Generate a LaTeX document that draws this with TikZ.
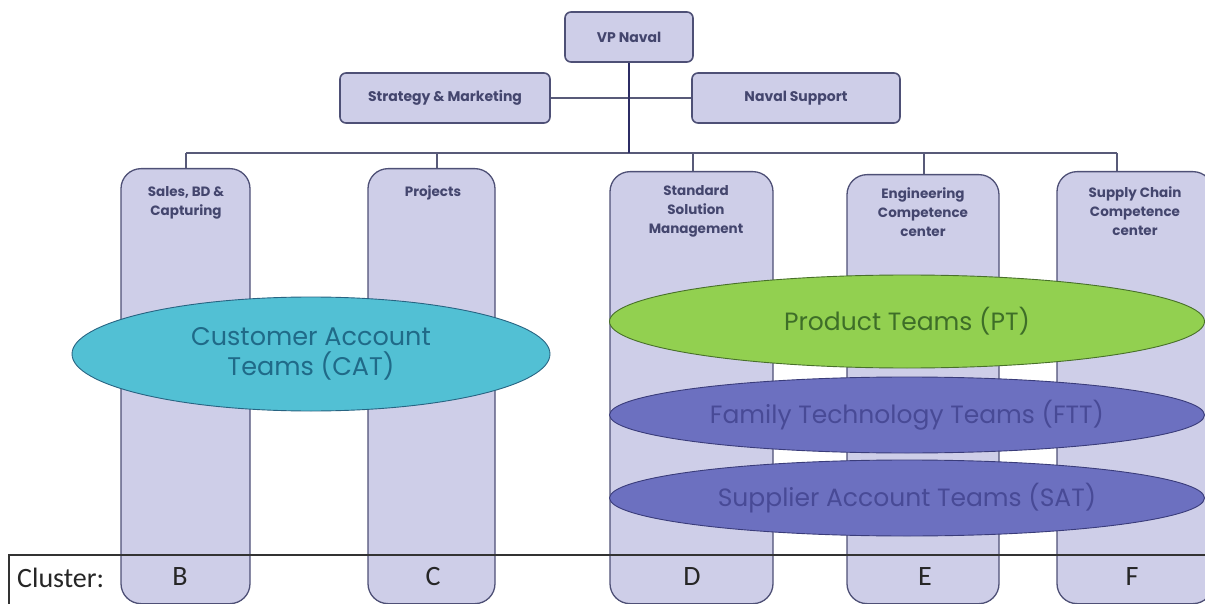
\documentclass[tikz,border=0pt]{standalone}
\usepackage{fontspec}
\setmainfont{Poppins}
\newfontfamily\calib{Carlito}
\usetikzlibrary{shapes.geometric}
\definecolor{colfill}{RGB}{206,206,232}
\definecolor{colborder}{RGB}{78,80,118}
\definecolor{headtext}{RGB}{68,70,110}
\definecolor{catfill}{RGB}{82,192,212}
\definecolor{cattext}{RGB}{32,106,136}
\definecolor{catborder}{RGB}{40,100,130}
\definecolor{ptfill}{RGB}{146,208,80}
\definecolor{pttext}{RGB}{62,110,40}
\definecolor{ptborder}{RGB}{72,112,42}
\definecolor{fttfill}{RGB}{108,112,192}
\definecolor{ftttext}{RGB}{72,74,150}
\definecolor{fttborder}{RGB}{58,60,122}
\definecolor{busline}{RGB}{88,90,120}
\definecolor{vpline}{RGB}{44,44,100}
\begin{document}
\begin{tikzpicture}[x=1pt,y=-1pt,
  colbox/.style={draw=colborder,fill=colfill,line width=1.3pt,rounded corners=20pt,anchor=north,inner sep=0pt},
  topbox/.style={draw=colborder,fill=colfill,line width=1.6pt,rounded corners=6pt,inner sep=0pt,text=headtext,font=\fontsize{14}{16}\selectfont\bfseries},
  headtxt/.style={text=headtext,align=center,inner sep=0pt,font=\fontsize{13.5}{19}\selectfont\bfseries},
  oval/.style={ellipse,inner sep=0pt,line width=0.9pt,align=center},
  busstyle/.style={draw=busline,line width=1.3pt},
  vpstyle/.style={draw=vpline,line width=2.2pt},
  tableline/.style={draw=black!80,line width=1.2pt},
  clustertxt/.style={inner sep=0pt,text=black!85,font=\calib\fontsize{28}{30}\selectfont}
]
\useasboundingbox (0,0) rectangle (1205,604);

% columns
\node[colbox,minimum width=129pt,minimum height=435pt] (sales) at (185.5,168) {};
\node[colbox,minimum width=127pt,minimum height=435pt] (proj) at (431.5,168) {};
\node[colbox,minimum width=163pt,minimum height=432pt] (std) at (691.5,171) {};
\node[colbox,minimum width=152pt,minimum height=429pt] (eng) at (923,174) {};
\node[colbox,minimum width=156pt,minimum height=432pt] (sup) at (1135,171) {};

\node[headtxt] (salesT) at (186,202.5) {Sales, BD \&\\Capturing};
\node[headtxt] (projT) at (433,193) {Projects};
\node[headtxt] (stdT) at (696,211) {Standard\\Solution\\Management};
\node[headtxt] (engT) at (923,212) {Engineering\\Competence\\center};
\node[headtxt] (supT) at (1135,211) {Supply Chain\\Competence\\center};

% top boxes
\node[topbox,minimum width=128pt,minimum height=50pt] (vp) at (629,37) {VP Naval};
\node[topbox,minimum width=210pt,minimum height=50pt] (strat) at (445,98) {Strategy \& Marketing};
\node[topbox,minimum width=208pt,minimum height=50pt] (naval) at (796,98) {Naval Support};

% connectors
\coordinate (b1) at (186,153);
\coordinate (b2) at (437,153);
\coordinate (b3) at (693,153);
\coordinate (b4) at (924,153);
\coordinate (b5) at (1117,153);
\draw[busstyle] (strat.east) -- (naval.west);
\draw[busstyle] (b1) -- (b5);
\draw[busstyle] (b1) -- (b1 |- sales.north);
\draw[busstyle] (b2) -- (b2 |- proj.north);
\draw[busstyle] (b3) -- (b3 |- std.north);
\draw[busstyle] (b4) -- (b4 |- eng.north);
\draw[busstyle] (b5) -- (b5 |- sup.north);
\draw[vpstyle] (vp.south) -- (vp.south |- b1);

% ellipses
\node[oval,draw=catborder,fill=catfill,text=cattext,minimum width=478pt,minimum height=114pt,font=\fontsize{25.5}{30}\selectfont] (cat) at (311,354) {Customer Account\\Teams (CAT)};
\node[oval,draw=ptborder,fill=ptfill,text=pttext,minimum width=595pt,minimum height=93pt,font=\fontsize{25}{30}\selectfont] (pt) at (907,321.5) {Product Teams (PT)};
\node[oval,draw=fttborder,fill=fttfill,text=ftttext,minimum width=595pt,minimum height=76pt,font=\fontsize{25}{30}\selectfont] (ftt) at (907,415) {Family Technology Teams (FTT)};
\node[oval,draw=fttborder,fill=fttfill,text=ftttext,minimum width=595pt,minimum height=76pt,font=\fontsize{25}{30}\selectfont] (sat) at (907,498) {Supplier Account Teams (SAT)};

% cluster table
\coordinate (t1) at (9,604);
\coordinate (t2) at (9,555);
\coordinate (t3) at (1205,555);
\draw[tableline] (t1) -- (t2) -- (t3);
\node[clustertxt,anchor=west] (cl) at (17,578) {Cluster:};
\node[clustertxt] (cB) at (180,577) {B};
\node[clustertxt] (cC) at (433,577) {C};
\node[clustertxt] (cD) at (692,577) {D};
\node[clustertxt] (cE) at (925,577) {E};
\node[clustertxt] (cF) at (1132,577) {F};
\end{tikzpicture}
\end{document}
